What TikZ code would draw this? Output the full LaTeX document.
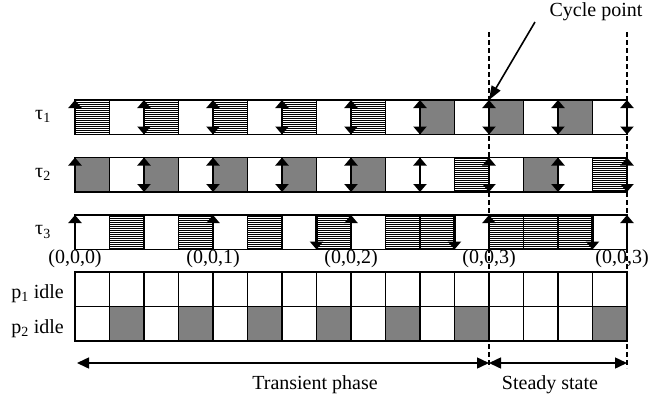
\documentclass[tikz,border=0pt]{standalone}
\usepackage{fontspec}
\setmainfont{Liberation Serif}
\usetikzlibrary{arrows.meta,patterns.meta}

\newcommand{\slotsize}{34.5}

\tikzset{
  lbl/.style={font=\fontsize{20}{23}\selectfont, inner sep=0pt},
  slot/.style={draw, line width=1.6pt},
  slotw/.style={slot, fill=white},
  slotg/.style={slot, fill=gray},
  sloth/.style={slot, fill=white,
    postaction={pattern={Lines[distance=2pt,line width=.9pt]}}},
  rel/.style={line width=2.4pt, -{Triangle[length=8pt,width=13pt]}},
  reldl/.style={line width=2.4pt,
    {Triangle[length=8pt,width=13pt]}-{Triangle[length=8pt,width=13pt]}},
  cycleline/.style={line width=1.5pt, dash pattern=on 5pt off 3pt},
  phase/.style={line width=1.5pt,
    {Triangle[length=12pt,width=11pt]}-{Triangle[length=12pt,width=11pt]}},
  pointer/.style={line width=1.6pt, -{Triangle[length=14pt,width=10pt]}}
}

\begin{document}
\begin{tikzpicture}[x=1pt,y=-1pt]
  \useasboundingbox (0,0) rectangle (649,400);

  % cycle boundaries
  \coordinate (c12) at (489,32);
  \coordinate (c12b) at (489,368);
  \coordinate (c16) at (627,32);
  \coordinate (c16b) at (627,368);
  \draw[cycleline] (c12) -- (c12b);
  \draw[cycleline] (c16) -- (c16b);

  % tau_1
  \foreach \f [count=\i from 0] in {h,w,h,w,h,w,h,w,h,w,g,w,g,w,g,w}
    \path[slot\f] (75+\slotsize*\i,100) rectangle ++(\slotsize,34.5);
  \draw[rel] (75,134.5) -- ++(0,-34.5);
  \foreach \k in {2,4,...,16}
    \draw[reldl] (75+\slotsize*\k,134.5) -- ++(0,-34.5);

  % tau_2
  \foreach \f [count=\i from 0] in {g,w,g,w,g,w,g,w,g,w,w,h,w,g,w,h}
    \path[slot\f] (75+\slotsize*\i,157.5) rectangle ++(\slotsize,34.5);
  \draw[rel] (75,192) -- ++(0,-34.5);
  \foreach \k in {2,4,...,16}
    \draw[reldl] (75+\slotsize*\k,192) -- ++(0,-34.5);

  % tau_3
  \foreach \f [count=\i from 0] in {w,h,w,h,w,h,w,h,w,h,h,w,h,h,h,w}
    \path[slot\f] (75+\slotsize*\i,215) rectangle ++(\slotsize,34.5);
  \foreach \k in {0,4,...,16}
    \draw[rel] (75+\slotsize*\k,249.5) -- ++(0,-34.5);
  \foreach \k in {7,11,15}
    \draw[rel] (75+\slotsize*\k,215) -- ++(0,34.5);

  % idle slots
  \foreach \i in {0,...,15}
    \path[slotw] (75+\slotsize*\i,272) rectangle ++(\slotsize,34.5);
  \foreach \f [count=\i from 0] in {w,g,w,g,w,g,w,g,w,g,w,g,w,w,w,g}
    \path[slot\f] (75+\slotsize*\i,306.5) rectangle ++(\slotsize,34.5);

  \node[lbl] (t1) at (43,116) {τ\textsubscript{1}};
  \node[lbl] (t2) at (43,174) {τ\textsubscript{2}};
  \node[lbl] (t3) at (43,232) {τ\textsubscript{3}};
  \node[lbl, anchor=east] (p1) at (64,294) {p\textsubscript{1} idle};
  \node[lbl, anchor=east] (p2) at (64,329) {p\textsubscript{2} idle};
  \foreach \k/\v in {0/0,4/1,8/2,12/3}
    \node[lbl] (m\k) at (75+\slotsize*\k,259) {(0,0,\v)};
  \node[lbl, anchor=east] (m16) at (649,259) {(0,0,3)};

  % phases
  \coordinate (a0) at (77,363);
  \coordinate (a12) at (489,363);
  \coordinate (a16) at (627,363);
  \draw[phase] (a0) -- (a12);
  \draw[phase] (a12) -- (a16);
  \node[lbl] (trans) at (315,385) {Transient phase};
  \node[lbl] (steady) at (550,385) {Steady state};

  \node[lbl] (cp) at (596,12) {Cycle point};
  \coordinate (cpt) at (535,22);
  \coordinate (cyc) at (489,100);
  \draw[pointer] (cpt) -- (cyc);
\end{tikzpicture}
\end{document}
